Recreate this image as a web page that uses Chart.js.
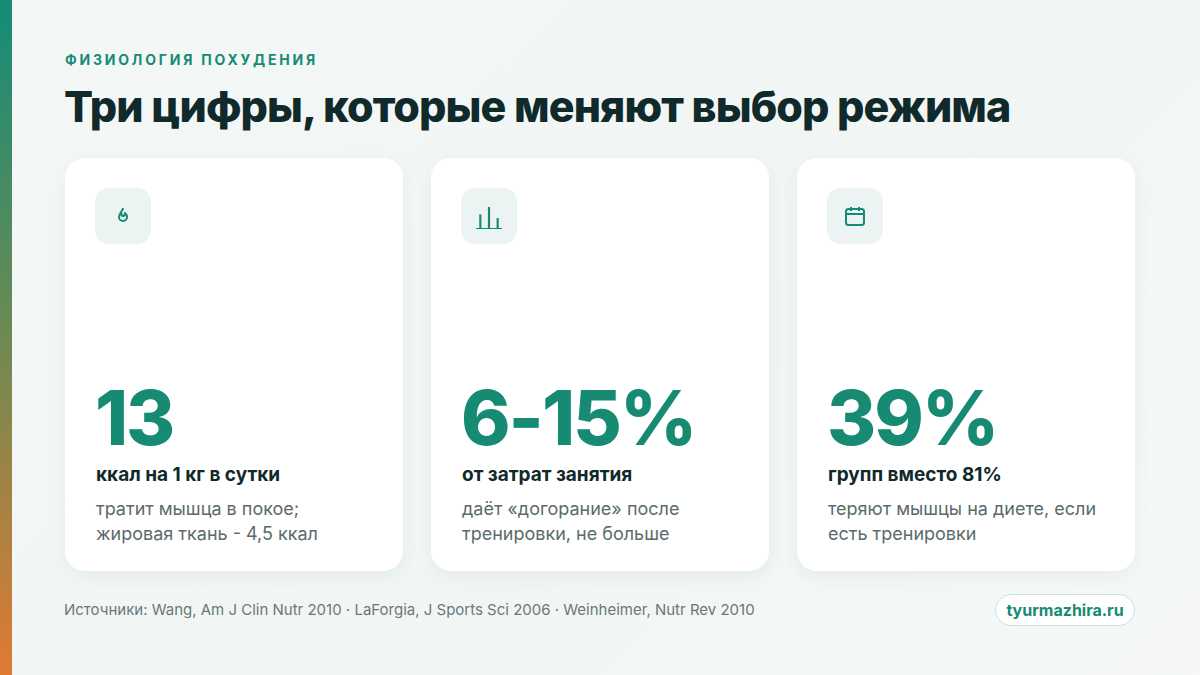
<!DOCTYPE html>
<html>
<head>
<meta charset="utf-8">
<script src="https://cdn.jsdelivr.net/npm/chart.js@4"></script>
<style>
body { margin:0; width:1200px; height:675px; overflow:hidden; font-family: Inter, "Noto Sans", sans-serif;
  background: linear-gradient(135deg, #f3f8f7 0%, #f1f6f5 60%, #f6f8f8 100%); position:relative; }
.stripe { position:absolute; left:0; top:0; width:12px; height:675px; background: linear-gradient(180deg, #148c78 0%, #6e8a52 50%, #e07a33 100%); }
.kicker { position:absolute; left:65px; top:51px; font-size:14px; font-weight:700; letter-spacing:2.8px; color:#178a74; }
.title { position:absolute; left:64px; top:80px; font-size:43px; font-weight:800; color:#10292a; letter-spacing:-0.9px; }
.card { position:absolute; top:158px; width:338px; height:413px; background:#fff; border-radius:20px; box-shadow:0 6px 18px rgba(20,60,60,0.06); }
.icon { position:absolute; left:30px; top:30px; width:56px; height:56px; border-radius:14px; background:#ebf4f2; display:flex; align-items:center; justify-content:center; }
.num { position:absolute; left:30px; top:222px; font-size:75px; line-height:75px; font-weight:800; color:#178a74; letter-spacing:-2px; }
.sub { position:absolute; left:31px; top:305px; font-size:19px; line-height:24px; font-weight:700; color:#10292a; }
.desc { position:absolute; left:31px; top:338px; font-size:18px; line-height:25px; color:#5b6b6b; width:300px; }
.foot { position:absolute; left:64px; top:600px; font-size:15px; color:#6b7878; }
.pill { position:absolute; left:995px; top:594px; width:138px; height:30px; border:1.5px solid #c9e3dd; border-radius:16px; background:#fff;
  font-size:16px; font-weight:700; color:#178a74; display:flex; align-items:center; justify-content:center; }
</style>
</head>
<body>
<div class="stripe"></div>
<div class="kicker">ФИЗИОЛОГИЯ ПОХУДЕНИЯ</div>
<div class="title">Три цифры, которые меняют выбор режима</div>
<div id="cards"></div>
<div class="foot">Источники: Wang, Am J Clin Nutr 2010 · LaForgia, J Sports Sci 2006 · Weinheimer, Nutr Rev 2010</div>
<div class="pill">tyurmazhira.ru</div>
<script>
var values = ['13', '6-15%', '39%'];
var subtitles = ['ккал на 1 кг в сутки', 'от затрат занятия', 'групп вместо 81%'];
var descriptions = ['тратит мышца в покое;<br>жировая ткань - 4,5 ккал', 'даёт «догорание» после<br>тренировки, не больше', 'теряют мышцы на диете, если<br>есть тренировки'];
var iconBars = [2, 3, 1.5];
var iconLabels = ['a', 'b', 'c'];

var flame = '<svg width="18" height="20" viewBox="0 0 18 20"><path d="M9 2c0 3-4 5-4 9a4 4 0 0 0 8 0c0-2-1-3-2-4 0 2-1 3-2 3-1.5 0-2-1.5-1-3" fill="none" stroke="#178a74" stroke-width="2" stroke-linejoin="round"/></svg>';
var cal = '<svg width="24" height="24" viewBox="0 0 24 24"><rect x="3" y="5" width="18" height="16" rx="2.5" fill="none" stroke="#178a74" stroke-width="2"/><line x1="3" y1="10" x2="21" y2="10" stroke="#178a74" stroke-width="2"/><line x1="8" y1="3" x2="8" y2="7" stroke="#178a74" stroke-width="2"/><line x1="16" y1="3" x2="16" y2="7" stroke="#178a74" stroke-width="2"/></svg>';
var icons = [flame, '<div style="width:26px;height:22px;margin-top:4px"><canvas id="barIcon"></canvas></div>', cal];

var cardsEl = document.getElementById('cards');
var lefts = [65, 431, 797];
for (var i = 0; i < 3; i++) {
    var c = document.createElement('div');
    c.className = 'card';
    c.style.left = lefts[i] + 'px';
    c.innerHTML = '<div class="icon">' + icons[i] + '</div>' +
        '<div class="num">' + values[i] + '</div>' +
        '<div class="sub">' + subtitles[i] + '</div>' +
        '<div class="desc">' + descriptions[i] + '</div>';
    cardsEl.appendChild(c);
}

new Chart(document.getElementById('barIcon').getContext('2d'), {
    type: 'bar',
    data: { labels: iconLabels, datasets: [{ data: iconBars, backgroundColor: '#178a74', barPercentage: 0.25, categoryPercentage: 1 }] },
    options: {
        responsive: true, maintainAspectRatio: false, animation: false,
        layout: { padding: 0 },
        plugins: { legend: { display: false }, tooltip: { enabled: false } },
        scales: {
            x: { display: true, ticks: { display: false }, grid: { display: false, drawTicks: false }, border: { color: '#178a74', width: 2 } },
            y: { display: false, min: 0, max: 3 }
        }
    }
});
</script>
</body>
</html>
